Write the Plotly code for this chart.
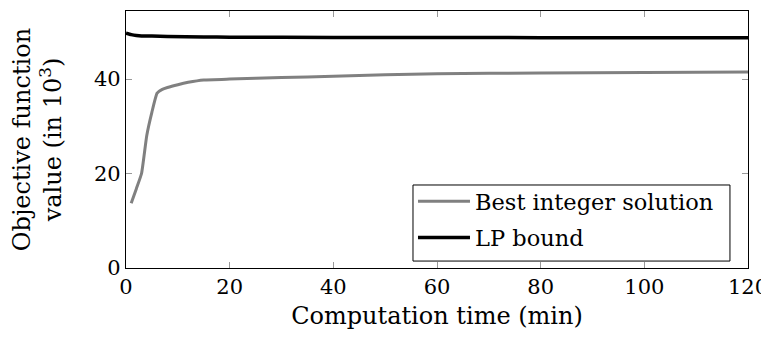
import plotly.graph_objects as go

# Data
time_best = [1, 2, 3, 4, 5, 6, 7, 8, 10, 12, 15, 20, 30, 40, 50, 60, 80, 100, 120]
best_integer = [13.7, 16.8, 20.0, 28.0, 33.0, 37.0, 37.8, 38.2, 38.8, 39.3, 39.8, 40.0, 40.3, 40.6, 40.9, 41.1, 41.3, 41.4, 41.5]
time_lp = [0, 1, 2, 3, 5, 8, 15, 20, 40, 60, 80, 100, 120]
lp_bound = [49.7, 49.4, 49.2, 49.1, 49.1, 49.0, 48.9, 48.85, 48.8, 48.8, 48.75, 48.75, 48.75]

x_ticks = [0, 20, 40, 60, 80, 100, 120]
y_ticks = [0, 20, 40]

font_family = "DejaVu Serif"

fig = go.Figure()
fig.add_trace(go.Scatter(x=time_best, y=best_integer, mode="lines",
                         name="Best integer solution", legendgroup="a",
                         line=dict(color="#808080", width=3, shape="spline", smoothing=0.4)))
fig.add_trace(go.Scatter(x=time_lp, y=lp_bound, mode="lines",
                         name="LP bound", legendgroup="b",
                         line=dict(color="#000000", width=3.5, shape="spline", smoothing=0.4)))

axis_common = dict(showgrid=False, zeroline=False, showline=True, linecolor="black",
                   linewidth=1.2, ticks="inside", ticklen=6, tickcolor="#999999",
                   tickwidth=1, mirror="allticks", automargin=False,
                   tickfont=dict(family=font_family, size=21, color="black"))

# legend frame drawn as a shape so its padding matches the reference
fig.add_shape(type="rect", xref="x domain", yref="y domain",
              x0=0.4614, x1=0.971, y0=0.027, y1=0.323,
              line=dict(color="black", width=1), fillcolor="white", layer="above")

# the page body adds an 8px margin, so the figure is sized to fit the window
fig.update_layout(
    width=761, height=329,
    margin=dict(l=118, r=21, t=3, b=69),
    paper_bgcolor="white", plot_bgcolor="white",
    font=dict(family=font_family, color="black"),
    xaxis=dict(range=[0, 120], tickvals=x_ticks,
               title=dict(text="Computation time (min)", font=dict(family=font_family, size=24), standoff=8),
               **axis_common),
    yaxis=dict(range=[0, 54.4], tickvals=y_ticks,
               title=dict(text="Objective function<br>value (in 10<sup>3</sup>)", font=dict(family=font_family, size=24), standoff=26),
               **axis_common),
    legend=dict(x=0.4614, y=0.342, xanchor="left", yanchor="top",
                borderwidth=0, bgcolor="rgba(0,0,0,0)", itemwidth=52,
                font=dict(family=font_family, size=22.5), tracegroupgap=4),
    showlegend=True,
)

fig.write_html("out.html")
